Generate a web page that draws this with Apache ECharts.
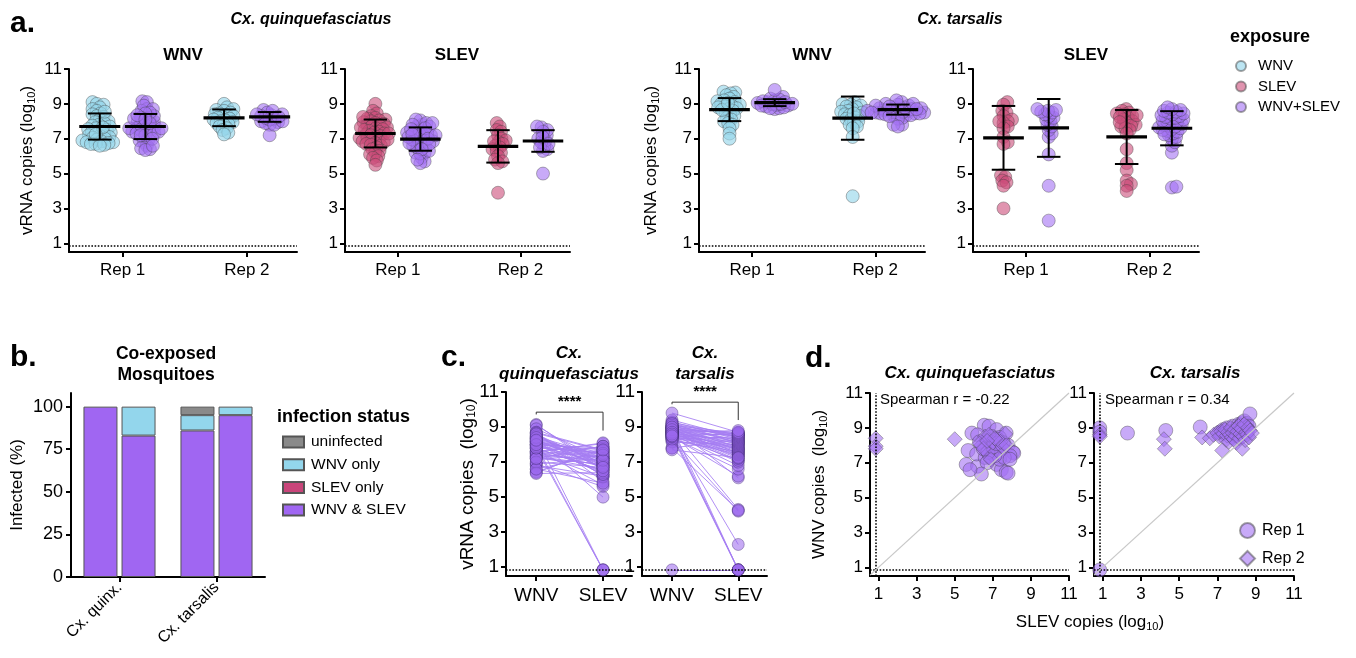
<!DOCTYPE html>
<html>
<head>
<meta charset="utf-8">
<title>WNV / SLEV co-exposure</title>
<script src="https://cdn.jsdelivr.net/npm/echarts@6/dist/echarts.min.js"></script>
<style>
    html,body{margin:0;padding:0;background:#fff;}
    #chart{width:1356px;height:658px;}
</style>
</head>
<body>
<div id="chart"></div>
<script>
// ---------- data: log10 vRNA copies, LOD = below limit of detection ----------
const LOD = 0.85;
const logTicks = [1, 3, 5, 7, 9, 11];
const repLabels = ['Rep 1', 'Rep 2'];
const repPos = [23.5, 78];          // where Rep 1 / Rep 2 sit on the 0..100 axis
const cLabels = ['WNV', 'SLEV'];
const cPos = [24, 77];

// single exposure (panel a)
const quinqWnvR1 = [9.1, 9.0, 8.95, 8.8, 8.7, 8.6, 8.45, 8.4, 8.3, 8.25, 8.1, 8.0, 7.95, 7.9, 7.8, 7.75, 7.7, 7.6, 7.55, 7.5, 7.45, 7.4, 7.35, 7.3, 7.2, 7.15, 7.1, 7.05, 7.0, 6.95, 6.9, 6.85, 6.8, 6.8, 6.75, 6.7, 6.7, 6.65, 6.6, 8.55, 7.65, 7.25];
const quinqWnvR2 = [9.0, 8.8, 8.7, 8.65, 8.6, 8.5, 8.45, 8.4, 8.35, 8.3, 8.25, 8.2, 8.15, 8.1, 8.05, 8.0, 7.95, 7.9, 7.85, 7.8, 7.7, 7.6, 7.5, 7.35, 7.25];
const quinqSlevR1 = [9.0, 8.6, 8.45, 8.3, 8.2, 8.15, 8.1, 8.05, 8.0, 7.95, 7.9, 7.85, 7.8, 7.75, 7.7, 7.65, 7.6, 7.55, 7.5, 7.45, 7.4, 7.35, 7.3, 7.25, 7.2, 7.15, 7.1, 7.05, 7.0, 6.95, 6.9, 6.85, 6.8, 6.75, 6.7, 6.65, 6.6, 6.5, 6.4, 6.3, 6.2, 6.1, 6.0, 5.9, 5.75, 5.5, 7.65, 7.3, 6.95, 8.25];
const quinqSlevR2 = [7.9, 7.7, 7.5, 7.4, 7.2, 7.0, 6.9, 6.8, 6.7, 6.6, 6.5, 6.4, 6.3, 6.2, 6.0, 5.8, 5.7, 5.6, 6.85, 3.9];
const tarsWnvR1 = [9.7, 9.65, 9.6, 9.5, 9.4, 9.3, 9.2, 9.15, 9.1, 9.0, 8.95, 8.9, 8.85, 8.8, 8.75, 8.7, 8.6, 8.5, 8.4, 8.3, 8.2, 8.1, 8.0, 7.9, 7.8, 7.6, 7.3, 7.0, 8.65, 9.05];
const tarsWnvR2 = [9.1, 9.0, 8.95, 8.9, 8.85, 8.8, 8.7, 8.6, 8.55, 8.5, 8.4, 8.35, 8.3, 8.2, 8.15, 8.1, 8.0, 7.9, 7.8, 7.7, 7.6, 7.1, 3.7, 8.45];
const tarsSlevR1 = [9.1, 8.95, 8.6, 8.5, 8.3, 8.1, 8.0, 7.9, 7.7, 7.6, 7.1, 6.8, 6.7, 4.9, 4.8, 4.6, 4.5, 4.3, 3.0, 8.0];
const tarsSlevR2 = [8.7, 8.6, 8.5, 8.45, 8.4, 8.3, 8.2, 8.1, 8.0, 7.9, 7.8, 7.75, 7.7, 7.6, 7.5, 7.3, 6.4, 5.6, 5.2, 4.6, 4.4, 4.3, 4.0, 8.25, 7.95, 8.35];

// co-exposed mosquitoes, one pair per mosquito: [SLEV, WNV]
const quinqCoR1 = [
    [6.55, 9.15], [6.8, 9.1], [5.9, 8.7], [6.2, 8.6], [7.2, 8.9], [7.7, 8.7],
    [5.7, 7.7], [5.6, 6.9], [6.2, 6.8], [6.15, 7.5], [6.6, 7.3], [6.85, 8.0],
    [7.1, 8.2], [7.55, 7.8], [7.8, 8.0], [8.05, 7.6], [8.1, 7.55], [7.9, 7.4],
    [7.2, 6.9], [7.45, 6.6], [7.7, 6.45], [7.8, 6.4], [7.0, 7.5], [7.3, 7.6],
    [6.85, 7.3], [6.5, 7.8], [7.35, 7.2], [7.6, 7.3], [6.7, 8.3], [6.95, 8.5],
    [7.35, 8.45], [7.1, 7.4], [6.75, 7.6], [6.3, 8.2], [7.55, 8.15], [7.0, 7.9],
    [7.25, 8.35], [7.9, 7.2], [6.7, 7.0], [7.2, 8.1], [6.4, 6.35], [5.8, 6.6]
];
const quinqCoR2 = [
    [0.85, 8.4], [0.85, 7.95], [0.85, 7.8], [5.0, 8.35], [6.4, 8.0], [7.0, 8.15],
    [7.65, 8.65], [6.6, 8.5], [6.9, 7.2], [7.2, 8.3], [7.5, 7.9], [6.3, 8.1],
    [6.8, 8.6], [7.4, 8.2], [6.5, 7.8], [7.1, 8.4], [7.7, 8.0], [6.7, 8.25]
];
const tarsCoR1 = [
    [2.3, 8.7], [4.3, 8.85], [6.1, 9.05], [7.1, 8.75], [7.3, 8.9], [7.5, 9.0],
    [7.7, 8.8], [7.8, 9.1], [8.0, 8.95], [8.1, 9.2], [8.2, 9.15], [8.3, 9.3],
    [8.4, 9.4], [8.5, 9.0], [8.55, 9.25], [8.6, 8.9], [8.7, 9.8], [8.65, 9.1],
    [0.85, 9.0], [0.85, 8.75], [0.85, 0.85]
];
const tarsCoR2 = [
    [4.2, 8.35], [4.25, 7.8], [6.2, 8.45], [6.6, 8.4], [6.8, 8.6], [7.0, 8.7],
    [7.1, 8.5], [7.2, 8.8], [7.3, 8.65], [7.4, 8.9], [7.45, 8.3], [7.5, 8.55],
    [7.55, 8.75], [7.6, 8.2], [7.65, 8.6], [7.7, 9.0], [7.75, 8.45], [7.8, 8.7],
    [7.85, 8.35], [7.9, 8.9], [7.95, 8.55], [8.0, 8.15], [8.05, 8.8], [8.1, 9.1],
    [8.15, 8.4], [8.2, 8.65], [8.25, 8.95], [8.3, 7.8], [8.35, 8.5], [8.4, 9.2],
    [8.45, 8.3], [8.5, 8.75], [8.55, 8.6], [8.6, 9.0], [8.65, 8.45], [8.7, 8.85],
    [8.8, 8.7], [7.25, 7.7], [0.85, 8.6], [0.85, 8.5]
];

// mean and SD bars of panel a, order: R1 single, R1 co, R2 single, R2 co
const meanQuinqWnv = [7.7, 7.7, 8.2, 8.25];
const sdQuinqWnv = [0.75, 0.72, 0.48, 0.28];
const meanQuinqSlev = [7.3, 6.98, 6.56, 6.87];
const sdQuinqSlev = [0.8, 0.67, 0.93, 0.62];
const meanTarsWnv = [8.67, 9.07, 8.18, 8.67];
const sdTarsWnv = [0.66, 0.2, 1.24, 0.29];
const meanTarsSlev = [7.05, 7.62, 7.1, 7.6];
const sdTarsSlev = [1.83, 1.66, 1.55, 0.98];

// panel b, infected (%) per species [quinx, tarsalis]
const speciesShort = ['Cx. quinx.', 'Cx. tarsalis'];
const bothRep1 = [100, 86];
const bothRep2 = [83, 95];
const slevOnlyRep1 = [0, 0];
const slevOnlyRep2 = [0, 0];
const wnvOnlyRep1 = [0, 9];
const wnvOnlyRep2 = [17, 5];
const uninfRep1 = [0, 5];
const uninfRep2 = [0, 0];

const spearman = ['Spearman r = -0.22', 'Spearman r = 0.34'];

// ---------- styling ----------
const FONT = '"Liberation Sans", Arial, Helvetica, sans-serif';
const C_WNV = 'rgba(150,214,234,0.8)';
const C_SLEV = 'rgba(204,76,122,0.75)';
const C_CO = 'rgba(163,113,244,0.75)';
const C_EDGE = 'rgba(60,60,60,0.6)';
const GO = 10;   // group offset from the rep position
const SWARM = 4.6;

const grids = [
    {left: 69, top: 69, width: 228, height: 183},
    {left: 345, top: 69, width: 225, height: 183},
    {left: 699, top: 69, width: 226, height: 183},
    {left: 973, top: 69, width: 226, height: 183},
    {left: 71, top: 393, width: 194, height: 184},
    {left: 506, top: 392, width: 126, height: 184},
    {left: 642, top: 392, width: 125, height: 184},
    {left: 870, top: 393, width: 199, height: 183},
    {left: 1094, top: 393, width: 200, height: 183}
];

function richName(fs) {
    return {
        fontFamily: FONT, color: '#000',
        rich: {
            m: {fontSize: fs, lineHeight: fs + 1, verticalAlign: 'top', fontFamily: FONT, color: '#000'},
            s: {fontSize: Math.round(fs * 0.65), lineHeight: Math.round(fs * 0.65), verticalAlign: 'bottom',
                padding: [Math.round(fs * 0.6), 0, 0, 0], fontFamily: FONT, color: '#000'}
        }
    };
}
const axisLineStyle = {show: true, onZero: false, lineStyle: {color: '#000', width: 2}};

function logY(g, fs, name, gap) {
    return {
        type: 'value', gridIndex: g, min: 0.5, max: 11,
        axisLine: axisLineStyle,
        axisTick: {show: true, length: 5, lineStyle: {color: '#000', width: 2}, customValues: logTicks},
        axisLabel: {show: true, customValues: logTicks, color: '#000', fontSize: fs, fontFamily: FONT, margin: 7},
        splitLine: {show: false},
        name: name || '', nameLocation: 'middle', nameGap: gap || 0, nameRotate: 90, nameMoveOverlap: false,
        nameTextStyle: richName(fs)
    };
}
function posX(g, fs, pos, labels) {
    return {
        type: 'value', gridIndex: g, min: 0, max: 100,
        axisLine: axisLineStyle,
        axisTick: {show: true, length: 5, lineStyle: {color: '#000', width: 2}, customValues: pos},
        axisLabel: {show: true, customValues: pos, color: '#000', fontSize: fs, fontFamily: FONT, margin: 10,
            formatter: v => labels[pos.indexOf(v)]},
        splitLine: {show: false}
    };
}
function logX(g) {
    return {
        type: 'value', gridIndex: g, min: 0.55, max: 11,
        axisLine: axisLineStyle,
        axisTick: {show: true, length: 5, lineStyle: {color: '#000', width: 2}, customValues: logTicks},
        axisLabel: {show: true, customValues: logTicks, color: '#000', fontSize: 17, fontFamily: FONT, margin: 10},
        splitLine: {show: false}
    };
}

// beeswarm: points sorted by value, each pushed sideways to the nearest free spot
function swarm(values, center, g, d) {
    const pxX = grids[g].width / 100, pxY = grids[g].height / 10.5;
    const order = values.map((v, i) => ({v, i})).sort((a, b) => a.v - b.v);
    const placed = [], out = new Array(values.length);
    order.forEach(p => {
        const py = p.v * pxY;
        const cands = [0];
        placed.forEach(q => {
            const dy = py - q.py;
            if (Math.abs(dy) < d) {
                const dx = Math.sqrt(d * d - dy * dy);
                cands.push(q.px + dx, q.px - dx);
            }
        });
        cands.sort((a, b) => Math.abs(a) - Math.abs(b));
        let best = 0;
        for (const c of cands) {
            if (placed.every(q => (q.px - c) ** 2 + (q.py - py) ** 2 >= d * d - 1e-6)) { best = c; break; }
        }
        placed.push({px: best, py});
        out[p.i] = [center + best / pxX, p.v];
    });
    return out;
}

const dotted = {type: 'dotted', color: '#000', width: 1.6};

function errRender(params, api) {
    const x = api.value(0), m = api.value(1), s = api.value(2);
    const c = api.coord([x, m]), hi = api.coord([x, m + s]), lo = api.coord([x, m - s]);
    const hw = api.size([9, 0])[0], cw = api.size([5.2, 0])[0];
    const st = {stroke: '#000', lineWidth: 2};
    return {
        type: 'group', children: [
            {type: 'line', shape: {x1: c[0] - hw, y1: c[1], x2: c[0] + hw, y2: c[1]}, style: {stroke: '#000', lineWidth: 3.2}},
            {type: 'line', shape: {x1: c[0], y1: hi[1], x2: c[0], y2: lo[1]}, style: st},
            {type: 'line', shape: {x1: c[0] - cw, y1: hi[1], x2: c[0] + cw, y2: hi[1]}, style: st},
            {type: 'line', shape: {x1: c[0] - cw, y1: lo[1], x2: c[0] + cw, y2: lo[1]}, style: st}
        ]
    };
}

const xAxes = [], yAxes = [], series = [];

// ---------- panel a ----------
const wnvOf = arr => arr.map(p => p[1]).filter(v => v > LOD);
const slevOf = arr => arr.map(p => p[0]).filter(v => v > LOD);
const aPanels = [
    {single: [quinqWnvR1, quinqWnvR2], co: [wnvOf(quinqCoR1), wnvOf(quinqCoR2)], name: 'WNV', color: C_WNV, mean: meanQuinqWnv, sd: sdQuinqWnv},
    {single: [quinqSlevR1, quinqSlevR2], co: [slevOf(quinqCoR1), slevOf(quinqCoR2)], name: 'SLEV', color: C_SLEV, mean: meanQuinqSlev, sd: sdQuinqSlev},
    {single: [tarsWnvR1, tarsWnvR2], co: [wnvOf(tarsCoR1), wnvOf(tarsCoR2)], name: 'WNV', color: C_WNV, mean: meanTarsWnv, sd: sdTarsWnv},
    {single: [tarsSlevR1, tarsSlevR2], co: [slevOf(tarsCoR1), slevOf(tarsCoR2)], name: 'SLEV', color: C_SLEV, mean: meanTarsSlev, sd: sdTarsSlev}
];
const yName = '{m|vRNA copies (log}{s|10}{m|)}';
aPanels.forEach((p, g) => {
    xAxes.push(posX(g, 17, repPos, repLabels));
    yAxes.push(logY(g, 17, g % 2 === 0 ? yName : '', g === 0 ? 32 : 38));
    const errData = [];
    [0, 1].forEach(r => {
        series.push({
            type: 'scatter', name: p.name, xAxisIndex: g, yAxisIndex: g, symbolSize: 13,
            itemStyle: {color: p.color, borderColor: C_EDGE, borderWidth: 0.8},
            data: swarm(p.single[r], repPos[r] - GO, g, SWARM),
            markLine: r === 0 ? {silent: true, symbol: 'none', label: {show: false}, lineStyle: dotted, data: [{yAxis: LOD}]} : undefined
        });
        series.push({
            type: 'scatter', name: 'WNV+SLEV', xAxisIndex: g, yAxisIndex: g, symbolSize: 13,
            itemStyle: {color: C_CO, borderColor: C_EDGE, borderWidth: 0.8},
            data: swarm(p.co[r], repPos[r] + GO, g, SWARM)
        });
        errData.push([repPos[r] - GO, p.mean[2 * r], p.sd[2 * r]]);
        errData.push([repPos[r] + GO, p.mean[2 * r + 1], p.sd[2 * r + 1]]);
    });
    series.push({type: 'custom', xAxisIndex: g, yAxisIndex: g, z: 5, silent: true, renderItem: errRender,
        encode: {x: 0, y: 1}, data: errData});
});

// ---------- panel b ----------
xAxes.push({
    type: 'category', gridIndex: 4, data: speciesShort,
    axisLine: axisLineStyle,
    axisTick: {show: true, alignWithLabel: true, length: 5, lineStyle: {color: '#000', width: 2}},
    axisLabel: {rotate: 45, color: '#000', fontSize: 16, fontFamily: FONT, margin: 8}
});
yAxes.push({
    type: 'value', gridIndex: 4, min: 0, max: 108,
    axisLine: axisLineStyle,
    axisTick: {show: true, length: 5, lineStyle: {color: '#000', width: 2}, customValues: [0, 25, 50, 75, 100]},
    axisLabel: {customValues: [0, 25, 50, 75, 100], color: '#000', fontSize: 18, fontFamily: FONT, margin: 8},
    splitLine: {show: false},
    name: 'Infected (%)', nameLocation: 'middle', nameGap: 45, nameRotate: 90, nameMoveOverlap: false,
    nameTextStyle: {fontSize: 17, fontFamily: FONT, color: '#000'}
});
const bStatus = [
    {name: 'WNV & SLEV', color: '#a066f2', reps: [bothRep1, bothRep2]},
    {name: 'SLEV only', color: '#c9457a', reps: [slevOnlyRep1, slevOnlyRep2]},
    {name: 'WNV only', color: '#93d6ec', reps: [wnvOnlyRep1, wnvOnlyRep2]},
    {name: 'uninfected', color: '#8a8a8a', reps: [uninfRep1, uninfRep2]}
];
bStatus.forEach(s => {
    s.reps.forEach((vals, r) => {
        series.push({
            type: 'bar', name: s.name, xAxisIndex: 4, yAxisIndex: 4, stack: 'rep' + r,
            barWidth: 34, barGap: '12%', silent: true,
            itemStyle: {color: s.color, borderColor: '#555', borderWidth: 1},
            data: vals.map(v => v === 0 ? '-' : v)
        });
    });
});

// ---------- panel c ----------
const cPairs = [quinqCoR1.concat(quinqCoR2), tarsCoR1.concat(tarsCoR2)];
const bracket = [{top: 9.85, left: 9.72, right: 8.8}, {top: 10.42, left: 10.3, right: 9.4}];
cPairs.forEach((pairs, i) => {
    const g = 5 + i;
    xAxes.push(posX(g, 19, cPos, cLabels));
    yAxes.push(logY(g, 19, i === 0 ? '{m|vRNA copies  (log}{s|10}{m|)}' : '', 28));
    series.push({
        type: 'lines', coordinateSystem: 'cartesian2d', xAxisIndex: g, yAxisIndex: g, silent: true,
        lineStyle: {color: '#a47cf2', width: 1, opacity: 0.85},
        data: pairs.map(p => ({coords: [[cPos[0], p[1]], [cPos[1], p[0]]]})),
        markLine: {silent: true, symbol: 'none', label: {show: false}, lineStyle: dotted, data: [{yAxis: LOD}]}
    });
    [0, 1].forEach(side => {
        series.push({
            type: 'scatter', name: 'paired', xAxisIndex: g, yAxisIndex: g, symbolSize: 12,
            itemStyle: {color: 'rgba(156,104,238,0.7)', borderColor: 'rgba(60,40,110,0.6)', borderWidth: 0.8},
            data: pairs.map(p => [cPos[side], side === 0 ? p[1] : p[0]])
        });
    });
    const b = bracket[i];
    series.push({
        type: 'custom', xAxisIndex: g, yAxisIndex: g, silent: true, z: 6, data: [[cPos[0], b.top]],
        renderItem: (params, api) => {
            const p1 = api.coord([cPos[0], b.left]), p2 = api.coord([cPos[0], b.top]);
            const p3 = api.coord([cPos[1], b.top]), p4 = api.coord([cPos[1], b.right]);
            return {type: 'group', children: [
                {type: 'polyline', shape: {points: [p1, p2, p3, p4]}, style: {stroke: '#333', lineWidth: 1, fill: null}},
                {type: 'text', style: {text: '****', x: (p2[0] + p3[0]) / 2, y: p2[1] - 3, align: 'center', verticalAlign: 'bottom',
                    fontSize: 15, fontWeight: 'bold', fontFamily: FONT, fill: '#000'}}
            ]};
        }
    });
});

// ---------- panel d ----------
const dPanels = [[quinqCoR1, quinqCoR2], [tarsCoR1, tarsCoR2]];
dPanels.forEach((reps, i) => {
    const g = 7 + i;
    xAxes.push(logX(g));
    yAxes.push(logY(g, 17, i === 0 ? '{m|WNV copies  (log}{s|10}{m|)}' : '', 41));
    reps.forEach((pairs, r) => {
        series.push({
            type: 'scatter', name: repLabels[r], xAxisIndex: g, yAxisIndex: g,
            symbol: r === 0 ? 'circle' : 'diamond', symbolSize: r === 0 ? 14 : 15,
            itemStyle: {color: C_CO, borderColor: C_EDGE, borderWidth: 0.8},
            data: pairs.map(p => [p[0], p[1]]),
            markLine: r === 0 ? {
                silent: true, symbol: 'none', label: {show: false}, lineStyle: dotted,
                data: [
                    {yAxis: LOD}, {xAxis: LOD},
                    [{coord: [0.55, 0.55], lineStyle: {type: 'solid', color: '#c8c8c8', width: 1.2}}, {coord: [11, 11]}]
                ]
            } : undefined
        });
    });
});

// ---------- free text ----------
function txt(x, y, text, o) {
    return {type: 'text', x, y, z: 100, silent: true, style: Object.assign({
        text, fill: '#000', fontFamily: FONT, fontSize: 16, align: 'center', verticalAlign: 'middle'}, o || {})};
}
const bi = {fontWeight: 'bold', fontStyle: 'italic', fontSize: 16};
const graphics = [
    txt(10, 24, 'a.', {fontSize: 30, fontWeight: 'bold', align: 'left'}),
    txt(311, 20, 'Cx. quinquefasciatus', bi),
    txt(960, 20, 'Cx. tarsalis', bi),
    txt(183, 55, 'WNV', {fontWeight: 'bold', fontSize: 17}),
    txt(457, 55, 'SLEV', {fontWeight: 'bold', fontSize: 17}),
    txt(812, 55, 'WNV', {fontWeight: 'bold', fontSize: 17}),
    txt(1086, 55, 'SLEV', {fontWeight: 'bold', fontSize: 17}),
    txt(1230, 37, 'exposure', {fontWeight: 'bold', fontSize: 18, align: 'left'}),
    txt(10, 358, 'b.', {fontSize: 30, fontWeight: 'bold', align: 'left'}),
    txt(166, 354, 'Co-exposed', {fontWeight: 'bold', fontSize: 17.5}),
    txt(166, 375, 'Mosquitoes', {fontWeight: 'bold', fontSize: 17.5}),
    txt(277, 417, 'infection status', {fontWeight: 'bold', fontSize: 18, align: 'left'}),
    txt(441, 358, 'c.', {fontSize: 30, fontWeight: 'bold', align: 'left'}),
    txt(569, 353, 'Cx.', Object.assign({}, bi, {fontSize: 17})),
    txt(569, 374, 'quinquefasciatus', Object.assign({}, bi, {fontSize: 17})),
    txt(705, 353, 'Cx.', Object.assign({}, bi, {fontSize: 17})),
    txt(705, 374, 'tarsalis', Object.assign({}, bi, {fontSize: 17})),
    txt(805, 359, 'd.', {fontSize: 30, fontWeight: 'bold', align: 'left'}),
    txt(970, 373, 'Cx. quinquefasciatus', Object.assign({}, bi, {fontSize: 17})),
    txt(1195, 373, 'Cx. tarsalis', Object.assign({}, bi, {fontSize: 17})),
    txt(880, 400, spearman[0], {fontSize: 15, align: 'left'}),
    txt(1105, 400, spearman[1], {fontSize: 15, align: 'left'}),
    {type: 'text', x: 1090, y: 623, z: 100, silent: true, style: Object.assign({
        text: '{m|SLEV copies (log}{s|10}{m|)}', align: 'center', verticalAlign: 'middle'}, richName(17), {fill: '#000'})}
];

const legendText = (fs, pad) => ({fontSize: fs, fontFamily: FONT, color: '#000', lineHeight: 16, padding: [0, 0, 0, pad]});

const option = {
    backgroundColor: '#fff',
    animation: false,
    grid: grids.map(g => Object.assign({outerBoundsMode: 'none', containLabel: false}, g)),
    xAxis: xAxes,
    yAxis: yAxes,
    legend: [
        {data: ['WNV', 'SLEV', 'WNV+SLEV'], left: 1230, top: 53, orient: 'vertical', icon: 'circle',
            itemWidth: 10, itemHeight: 10, itemGap: 4.5, selectedMode: false, textStyle: legendText(15, 7)},
        {data: ['uninfected', 'WNV only', 'SLEV only', 'WNV & SLEV'], left: 277, top: 429, orient: 'vertical', icon: 'rect',
            itemWidth: 21, itemHeight: 11, itemGap: 6.7, selectedMode: false, textStyle: legendText(15.5, 2)},
        {data: ['Rep 1', 'Rep 2'], left: 1234, top: 517, orient: 'vertical',
            itemWidth: 15, itemHeight: 15, itemGap: 11, selectedMode: false, textStyle: legendText(16, 2)}
    ],
    graphic: graphics,
    series: series
};

const chart = echarts.init(document.getElementById('chart'), null, {renderer: 'canvas'});
chart.setOption(option);
</script>
</body>
</html>
